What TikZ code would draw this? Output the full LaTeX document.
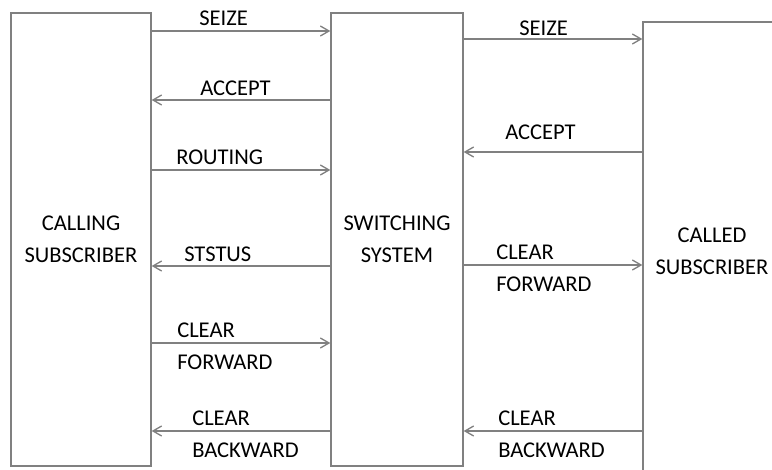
\documentclass[tikz,border=0pt]{standalone}
\usepackage{fontspec}
\setmainfont{Carlito}
\usetikzlibrary{arrows.meta}
\begin{document}
\begin{tikzpicture}[x=0.75pt,y=-0.75pt,
  every node/.style={font=\fontsize{16.9pt}{24pt}\selectfont},
  box/.style={draw=black!50,line width=1pt,align=center,inner sep=0pt},
  sig/.style={draw=black!50,line width=1pt,-{Straight Barb[length=6.5pt,width=7.5pt]}},
  lbl/.style={anchor=base west,inner sep=0pt,align=left}]
\clip (0,0) rectangle (772,470);
% boxes
\node[box,minimum width=105pt,minimum height=339.75pt] (calling) at (81,239.5) {CALLING\\SUBSCRIBER};
\node[box,minimum width=99pt,minimum height=339.75pt] (switch) at (397,239.5) {SWITCHING\\SYSTEM};
\node[box,minimum width=103.5pt,minimum height=343.5pt] (called) at (712,251) {CALLED\\SUBSCRIBER};
% calling <-> switching
\draw[sig] (calling.east |- 0,31) -- (switch.west |- 0,31);
\draw[sig] (switch.west |- 0,100) -- (calling.east |- 0,100);
\draw[sig] (calling.east |- 0,170) -- (switch.west |- 0,170);
\draw[sig] (switch.west |- 0,266) -- (calling.east |- 0,266);
\draw[sig] (calling.east |- 0,343) -- (switch.west |- 0,343);
\draw[sig] (switch.west |- 0,431) -- (calling.east |- 0,431);
\node[lbl] (seizeA) at (199,26) {SEIZE};
\node[lbl] (acceptA) at (200,96) {ACCEPT};
\node[lbl] (routing) at (176,165) {ROUTING};
\node[lbl] (ststus) at (184,262) {STSTUS};
\node[lbl] (clrfwdA) at (177,370) {CLEAR\\FORWARD};
\node[lbl] (clrbwdA) at (192,458) {CLEAR\\BACKWARD};
% switching <-> called
\draw[sig] (switch.east |- 0,39) -- (called.west |- 0,39);
\draw[sig] (called.west |- 0,152) -- (switch.east |- 0,152);
\draw[sig] (switch.east |- 0,265) -- (called.west |- 0,265);
\draw[sig] (called.west |- 0,431) -- (switch.east |- 0,431);
\node[lbl] (seizeB) at (519,36) {SEIZE};
\node[lbl] (acceptB) at (505,140) {ACCEPT};
\node[lbl] (clrfwdB) at (496,292) {CLEAR\\FORWARD};
\node[lbl] (clrbwdB) at (498,458) {CLEAR\\BACKWARD};
\end{tikzpicture}
\end{document}
